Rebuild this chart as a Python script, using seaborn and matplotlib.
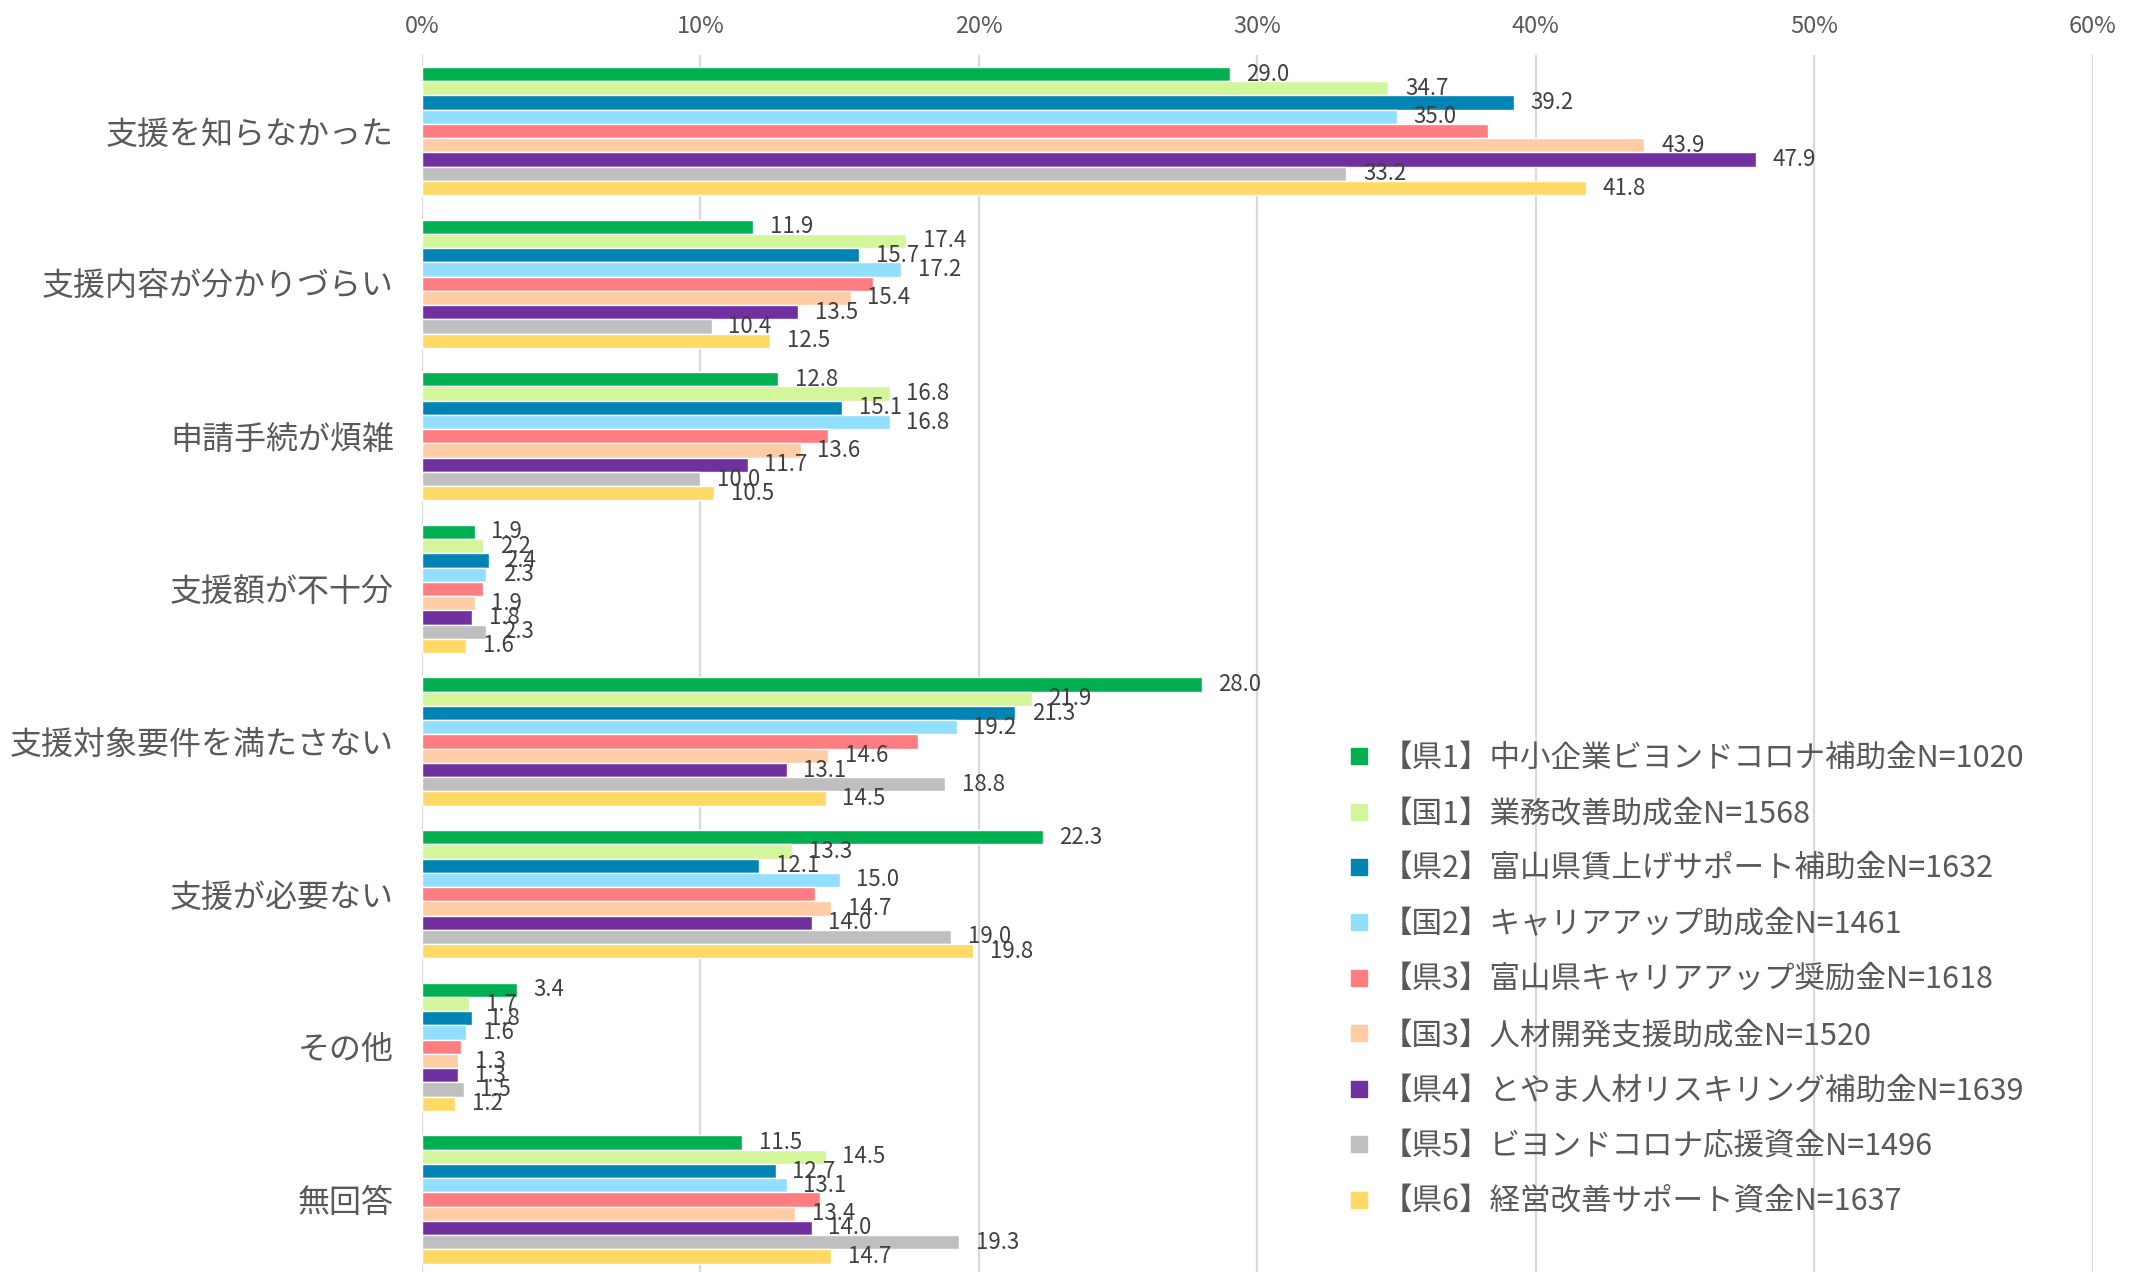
import matplotlib
matplotlib.use('Agg')
import matplotlib.pyplot as plt
from matplotlib.lines import Line2D
from matplotlib.ticker import FuncFormatter
import seaborn as sns
import pandas as pd

# categories (top to bottom)
categories = ['支援を知らなかった', '支援内容が分かりづらい', '申請手続が煩雑', '支援額が不十分',
              '支援対象要件を満たさない', '支援が必要ない', 'その他', '無回答']

# series names (legend order)
series = ['【県1】中小企業ビヨンドコロナ補助金N=1020',
          '【国1】業務改善助成金N=1568',
          '【県2】富山県賃上げサポート補助金N=1632',
          '【国2】キャリアアップ助成金N=1461',
          '【県3】富山県キャリアアップ奨励金N=1618',
          '【国3】人材開発支援助成金N=1520',
          '【県4】とやま人材リスキリング補助金N=1639',
          '【県5】ビヨンドコロナ応援資金N=1496',
          '【県6】経営改善サポート資金N=1637']

ken1 = [29.0, 11.9, 12.8, 1.9, 28.0, 22.3, 3.4, 11.5]
kuni1 = [34.7, 17.4, 16.8, 2.2, 21.9, 13.3, 1.7, 14.5]
ken2 = [39.2, 15.7, 15.1, 2.4, 21.3, 12.1, 1.8, 12.7]
kuni2 = [35.0, 17.2, 16.8, 2.3, 19.2, 15.0, 1.6, 13.1]
ken3 = [38.3, 16.2, 14.6, 2.2, 17.8, 14.1, 1.4, 14.3]   # no labels shown for this one
kuni3 = [43.9, 15.4, 13.6, 1.9, 14.6, 14.7, 1.3, 13.4]
ken4 = [47.9, 13.5, 11.7, 1.8, 13.1, 14.0, 1.3, 14.0]
ken5 = [33.2, 10.4, 10.0, 2.3, 18.8, 19.0, 1.5, 19.3]
ken6 = [41.8, 12.5, 10.5, 1.6, 14.5, 19.8, 1.2, 14.7]
all_values = [ken1, kuni1, ken2, kuni2, ken3, kuni3, ken4, ken5, ken6]

colors = ['#00B050', '#D4F69A', '#0084B3', '#92DFFD', '#FF7C80',
          '#FFCDA5', '#7030A0', '#BFBFBF', '#FFD966']

x_ticks = [0, 10, 20, 30, 40, 50, 60]

rows = []
for name, vals in zip(series, all_values):
    for cat, v in zip(categories, vals):
        rows.append({'category': cat, 'series': name, 'value': v})
df = pd.DataFrame(rows)

sns.set_style('white')
plt.rcParams['font.family'] = ['Noto Sans CJK JP', 'DejaVu Sans']

text_gray = '#595959'

fig = plt.figure(figsize=(21.34, 12.72), dpi=100)
ax = fig.add_axes([0.1977, -0.003, 0.783, 0.96])

sns.barplot(data=df, y='category', x='value', hue='series', order=categories,
            hue_order=series, palette=colors, width=0.84, errorbar=None,
            saturation=1, legend=False, ax=ax)

# value labels (the 県3 series has none in the original)
for i, cont in enumerate(ax.containers):
    if i == 4:
        continue
    ax.bar_label(cont, fmt='%.1f', padding=12, fontsize=16, color='#404040')

ax.set_xlim(0, 60)
ax.set_xticks(x_ticks)
ax.xaxis.set_major_formatter(FuncFormatter(lambda v, p: f'{int(v)}%'))
ax.xaxis.tick_top()
ax.tick_params(axis='x', length=0, pad=12, labelsize=17, labelcolor=text_gray)
ax.tick_params(axis='y', length=0, pad=20, labelsize=23, labelcolor=text_gray)
ax.set_xlabel('')
ax.set_ylabel('')
ax.grid(axis='x', color='#D9D9D9', linewidth=1.6)
ax.grid(axis='y', visible=False)
ax.set_axisbelow(True)
for s in ax.spines.values():
    s.set_visible(False)

handles = [Line2D([], [], marker='s', linestyle='', color=c, markersize=12) for c in colors]
fig.legend(handles, series, loc='upper left', bbox_to_anchor=(0.6326, 0.416),
           frameon=False, fontsize=22, labelcolor=text_gray, handlelength=0.6,
           handletextpad=0.45, labelspacing=0.8, borderpad=0, borderaxespad=0)

fig.savefig('out.png', dpi=100)
